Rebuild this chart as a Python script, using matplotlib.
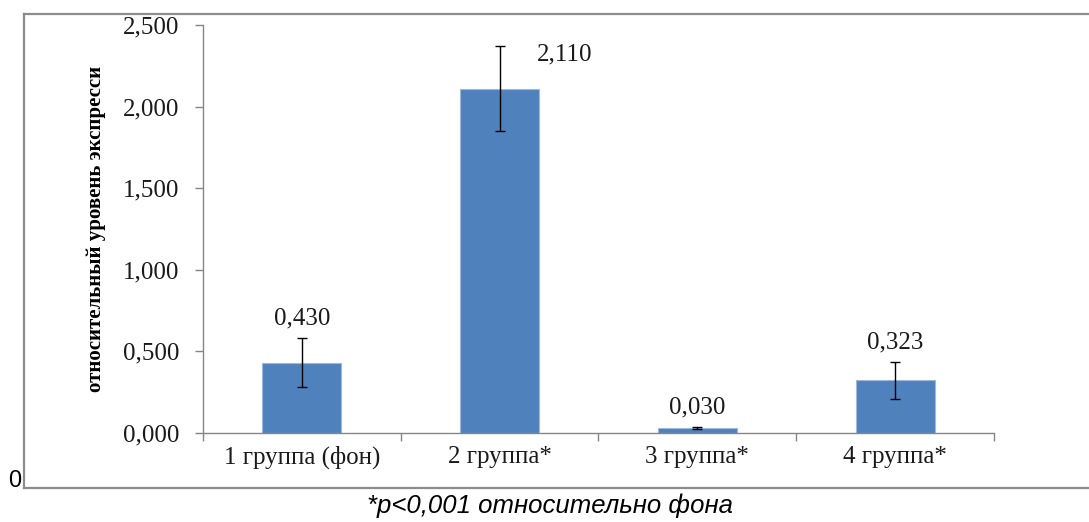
import numpy as np
import matplotlib
matplotlib.use('AGG')
import matplotlib.pyplot as plt
from matplotlib.lines import Line2D

# data
groups = ['1 группа (фон)', '2 группа*', '3 группа*', '4 группа*']
values = [0.430, 2.110, 0.030, 0.323]
errors = [0.150, 0.260, 0.006, 0.115]
value_labels = ['0,430', '2,110', '0,030', '0,323']
y_ticks = [0.0, 0.5, 1.0, 1.5, 2.0, 2.5]
y_tick_labels = ['0,000', '0,500', '1,000', '1,500', '2,000', '2,500']

ylabel = 'относительный уровень экспресси'
footnote = '*p<0,001 относительно фона'

serif = 'Liberation Serif'
sans = 'Liberation Sans'
bar_color = '#4F81BD'
axis_gray = '#868686'

W, H = 1089, 522
fig = plt.figure(figsize=(W / 100, H / 100), dpi=100)
fig.patch.set_facecolor('white')

ax = fig.add_axes([203 / W, 1 - 433 / H, (994 - 203) / W, (433 - 25) / H])

x = np.arange(len(groups))
ax.bar(x, values, width=0.4, color=bar_color, edgecolor='#9db8da', linewidth=0.8, zorder=2)
ax.errorbar(x, values, yerr=errors, fmt='none', ecolor='black', elinewidth=1.0,
            capsize=3.8, capthick=1.0, zorder=3)

# data labels, bar 2 label was moved right of its error bar
offsets = [(0, 14), (47, -6), (0, 14), (0, 14)]
for i, (v, e, lab) in enumerate(zip(values, errors, value_labels)):
    ax.annotate(lab, xy=(i, v + e), xytext=offsets[i], textcoords='offset points',
                ha='center', va='center', fontsize=18, family=serif, color='#1a1a1a')

ax.set_xlim(-0.5, len(groups) - 0.5)
ax.set_ylim(0, 2.5)

ax.set_yticks(y_ticks)
ax.set_yticklabels(y_tick_labels, family=serif, fontsize=18, color='#1a1a1a')
ax.tick_params(axis='y', direction='out', length=6, width=1, color=axis_gray, pad=11)

ax.set_xticks(x)
ax.set_xticklabels(groups, family=serif, fontsize=18, color='#1a1a1a')
ax.set_xticks(np.arange(len(groups) + 1) - 0.5, minor=True)
ax.tick_params(axis='x', which='major', length=0, pad=9)
ax.tick_params(axis='x', which='minor', direction='out', length=6, width=1, color=axis_gray)

for side in ['top', 'right']:
    ax.spines[side].set_visible(False)
for side in ['left', 'bottom']:
    ax.spines[side].set_color(axis_gray)
    ax.spines[side].set_linewidth(1)

ax.set_ylabel(ylabel, family=serif, fontsize=15, fontweight='bold', color='black')
ax.yaxis.set_label_coords((96 - 203) / (994 - 203), 0.5)
ax.yaxis.label.set_va('center')

# outer frame (no right edge)
frame_kw = dict(color='#8c8c8c', linewidth=1.6, transform=fig.transFigure)
fx0, fy0, fy1 = 24 / W, 1 - 488 / H, 1 - 14 / H
fig.add_artist(Line2D([fx0, 1.0], [fy1, fy1], **frame_kw))
fig.add_artist(Line2D([fx0, fx0], [fy0, fy1], **frame_kw))
fig.add_artist(Line2D([fx0, 1.0], [fy0, fy0], **frame_kw))

fig.text(15 / W, 1 - 481 / H, '0', ha='center', va='center', family=sans, fontsize=17)
fig.text(550 / W, 1 - 506 / H, footnote, ha='center', va='center', family=sans,
         style='italic', fontsize=18.5)

fig.savefig('out.png', dpi=100)
